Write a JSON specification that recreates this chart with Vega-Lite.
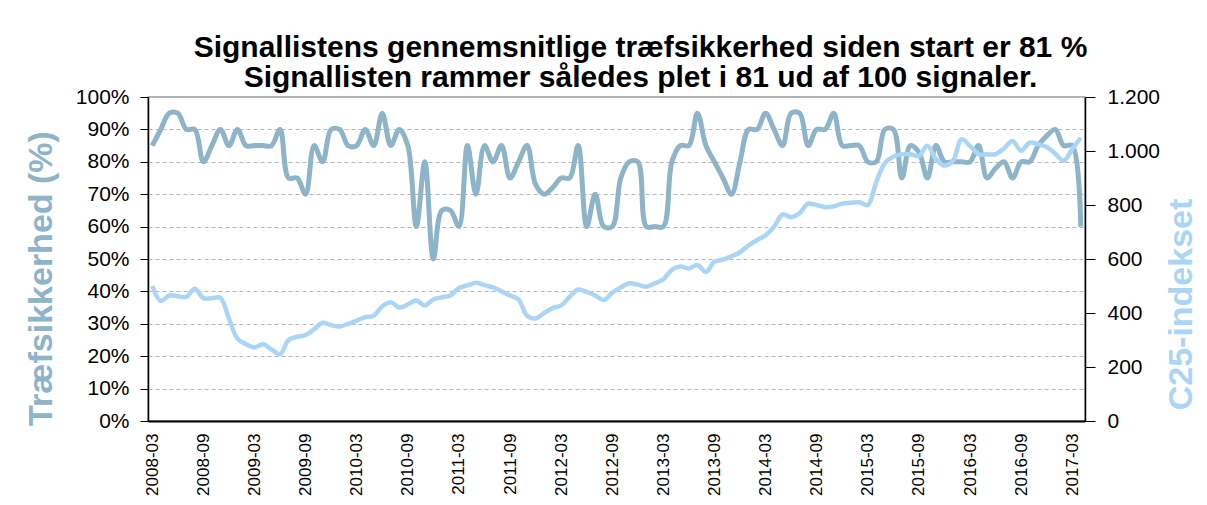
{
  "$schema": "https://vega.github.io/schema/vega-lite/v6.json",
  "width": 937,
  "height": 324,
  "autosize": {"type": "none"},
  "padding": {"left": 148, "top": 97, "right": 122, "bottom": 84},
  "background": "white",
  "config": {
    "font": "Liberation Sans",
    "view": {"stroke": "#999999", "strokeWidth": 1.5},
    "axis": {"labelFont": "Liberation Sans", "titleFont": "Liberation Sans", "labelColor": "#000000", "domainColor": "#000000", "tickColor": "#000000"}
  },
  "title": {
    "text": ["Signallistens gennemsnitlige træfsikkerhed siden start er 81 %", "Signallisten rammer således plet i 81 ud af 100 signaler."],
    "fontSize": 30,
    "fontWeight": "bold",
    "font": "Liberation Sans",
    "color": "#000000",
    "anchor": "middle",
    "dx": 24,
    "offset": -7,
    "lineHeight": 30
  },
  "data": {"values": [
    {"m": "2008-03", "acc": 85, "idx": 500},
    {"m": "2008-04", "acc": 90, "idx": 445},
    {"m": "2008-05", "acc": 95, "idx": 465},
    {"m": "2008-06", "acc": 95, "idx": 462},
    {"m": "2008-07", "acc": 90, "idx": 460},
    {"m": "2008-08", "acc": 90, "idx": 490},
    {"m": "2008-09", "acc": 80, "idx": 455},
    {"m": "2008-10", "acc": 85, "idx": 455},
    {"m": "2008-11", "acc": 90, "idx": 456},
    {"m": "2008-12", "acc": 85, "idx": 380},
    {"m": "2009-01", "acc": 90, "idx": 305},
    {"m": "2009-02", "acc": 85, "idx": 285},
    {"m": "2009-03", "acc": 85, "idx": 272},
    {"m": "2009-04", "acc": 85, "idx": 284},
    {"m": "2009-05", "acc": 85, "idx": 265},
    {"m": "2009-06", "acc": 90, "idx": 248},
    {"m": "2009-07", "acc": 75, "idx": 300},
    {"m": "2009-08", "acc": 75, "idx": 312},
    {"m": "2009-09", "acc": 70, "idx": 318},
    {"m": "2009-10", "acc": 85, "idx": 340},
    {"m": "2009-11", "acc": 80, "idx": 364},
    {"m": "2009-12", "acc": 90, "idx": 355},
    {"m": "2010-01", "acc": 90, "idx": 350},
    {"m": "2010-02", "acc": 85, "idx": 360},
    {"m": "2010-03", "acc": 85, "idx": 372},
    {"m": "2010-04", "acc": 90, "idx": 385},
    {"m": "2010-05", "acc": 85, "idx": 390},
    {"m": "2010-06", "acc": 95, "idx": 425},
    {"m": "2010-07", "acc": 85, "idx": 440},
    {"m": "2010-08", "acc": 90, "idx": 420},
    {"m": "2010-09", "acc": 85, "idx": 432},
    {"m": "2010-10", "acc": 60, "idx": 446},
    {"m": "2010-11", "acc": 80, "idx": 428},
    {"m": "2010-12", "acc": 50, "idx": 450},
    {"m": "2011-01", "acc": 65, "idx": 458},
    {"m": "2011-02", "acc": 65, "idx": 465},
    {"m": "2011-03", "acc": 60, "idx": 493},
    {"m": "2011-04", "acc": 85, "idx": 502},
    {"m": "2011-05", "acc": 70, "idx": 512},
    {"m": "2011-06", "acc": 85, "idx": 503},
    {"m": "2011-07", "acc": 80, "idx": 495},
    {"m": "2011-08", "acc": 85, "idx": 480},
    {"m": "2011-09", "acc": 75, "idx": 465},
    {"m": "2011-10", "acc": 80, "idx": 450},
    {"m": "2011-11", "acc": 85, "idx": 390},
    {"m": "2011-12", "acc": 73, "idx": 380},
    {"m": "2012-01", "acc": 70, "idx": 400},
    {"m": "2012-02", "acc": 72, "idx": 418},
    {"m": "2012-03", "acc": 75, "idx": 428},
    {"m": "2012-04", "acc": 75, "idx": 460},
    {"m": "2012-05", "acc": 85, "idx": 487},
    {"m": "2012-06", "acc": 60, "idx": 478},
    {"m": "2012-07", "acc": 70, "idx": 465},
    {"m": "2012-08", "acc": 60, "idx": 448},
    {"m": "2012-09", "acc": 60, "idx": 475},
    {"m": "2012-10", "acc": 75, "idx": 495},
    {"m": "2012-11", "acc": 80, "idx": 510},
    {"m": "2012-12", "acc": 80, "idx": 505},
    {"m": "2013-01", "acc": 60, "idx": 497},
    {"m": "2013-02", "acc": 60, "idx": 510},
    {"m": "2013-03", "acc": 60, "idx": 525},
    {"m": "2013-04", "acc": 80, "idx": 560},
    {"m": "2013-05", "acc": 85, "idx": 572},
    {"m": "2013-06", "acc": 85, "idx": 565},
    {"m": "2013-07", "acc": 95, "idx": 578},
    {"m": "2013-08", "acc": 85, "idx": 552},
    {"m": "2013-09", "acc": 80, "idx": 590},
    {"m": "2013-10", "acc": 75, "idx": 598},
    {"m": "2013-11", "acc": 70, "idx": 610},
    {"m": "2013-12", "acc": 80, "idx": 625},
    {"m": "2014-01", "acc": 90, "idx": 650},
    {"m": "2014-02", "acc": 90, "idx": 670},
    {"m": "2014-03", "acc": 95, "idx": 688},
    {"m": "2014-04", "acc": 90, "idx": 720},
    {"m": "2014-05", "acc": 85, "idx": 765},
    {"m": "2014-06", "acc": 95, "idx": 755},
    {"m": "2014-07", "acc": 95, "idx": 770},
    {"m": "2014-08", "acc": 85, "idx": 805},
    {"m": "2014-09", "acc": 90, "idx": 800},
    {"m": "2014-10", "acc": 90, "idx": 792},
    {"m": "2014-11", "acc": 95, "idx": 795},
    {"m": "2014-12", "acc": 85, "idx": 805},
    {"m": "2015-01", "acc": 85, "idx": 808},
    {"m": "2015-02", "acc": 85, "idx": 810},
    {"m": "2015-03", "acc": 80, "idx": 800},
    {"m": "2015-04", "acc": 80, "idx": 885},
    {"m": "2015-05", "acc": 90, "idx": 955},
    {"m": "2015-06", "acc": 90, "idx": 980},
    {"m": "2015-07", "acc": 75, "idx": 988},
    {"m": "2015-08", "acc": 85, "idx": 988},
    {"m": "2015-09", "acc": 83, "idx": 982},
    {"m": "2015-10", "acc": 75, "idx": 1019},
    {"m": "2015-11", "acc": 85, "idx": 970},
    {"m": "2015-12", "acc": 80, "idx": 946},
    {"m": "2016-01", "acc": 80, "idx": 964},
    {"m": "2016-02", "acc": 80, "idx": 1043},
    {"m": "2016-03", "acc": 80, "idx": 1019},
    {"m": "2016-04", "acc": 85, "idx": 988},
    {"m": "2016-05", "acc": 75, "idx": 988},
    {"m": "2016-06", "acc": 78, "idx": 988},
    {"m": "2016-07", "acc": 80, "idx": 1010},
    {"m": "2016-08", "acc": 75, "idx": 1037},
    {"m": "2016-09", "acc": 80, "idx": 1001},
    {"m": "2016-10", "acc": 80, "idx": 1031},
    {"m": "2016-11", "acc": 85, "idx": 1025},
    {"m": "2016-12", "acc": 88, "idx": 1015},
    {"m": "2017-01", "acc": 90, "idx": 990},
    {"m": "2017-02", "acc": 85, "idx": 964},
    {"m": "2017-03", "acc": 85, "idx": 1007},
    {"m": "2017-04", "acc": 60, "idx": 1049}
  ]},
  "encoding": {
    "x": {
      "field": "m",
      "type": "ordinal",
      "scale": {"type": "point", "padding": 0.5},
      "axis": {
        "title": null,
        "values": ["2008-03", "2008-09", "2009-03", "2009-09", "2010-03", "2010-09", "2011-03", "2011-09", "2012-03", "2012-09", "2013-03", "2013-09", "2014-03", "2014-09", "2015-03", "2015-09", "2016-03", "2016-09", "2017-03"],
        "labelAngle": 270,
        "labelFontSize": 17,
        "labelPadding": 12,
        "ticks": false,
        "tickSize": 0,
        "domainWidth": 2,
        "grid": false
      }
    }
  },
  "layer": [
    {
      "mark": {"type": "line", "interpolate": "catmull-rom", "color": "#8db4c8", "strokeWidth": 5},
      "encoding": {
        "y": {
          "field": "acc",
          "type": "quantitative",
          "scale": {"domain": [0, 100], "nice": false},
          "axis": {
            "orient": "left",
            "values": [0, 10, 20, 30, 40, 50, 60, 70, 80, 90, 100],
            "labelExpr": "datum.value + '%'",
            "labelFontSize": 21,
            "labelPadding": 11,
            "tickSize": 8,
            "domainWidth": 1.5,
            "grid": true,
            "gridColor": "#b5b5b5",
            "gridDash": [4, 3],
            "gridWidth": 1,
            "title": "Træfsikkerhed (%)",
            "titleColor": "#8db4c8",
            "titleFontSize": 34,
            "titleFontWeight": "bold",
            "titleAngle": 270,
            "titleBaseline": "middle",
            "titleAlign": "center",
            "titleX": -107,
            "titleY": 181
          }
        }
      }
    },
    {
      "mark": {"type": "line", "interpolate": "catmull-rom", "color": "#aad5f6", "strokeWidth": 4.5},
      "encoding": {
        "y": {
          "field": "idx",
          "type": "quantitative",
          "scale": {"domain": [0, 1200], "nice": false},
          "axis": {
            "orient": "right",
            "values": [0, 200, 400, 600, 800, 1000, 1200],
            "labelExpr": "replace(format(datum.value, ','), ',', '.')",
            "labelFontSize": 21,
            "labelPadding": 12,
            "tickSize": 10,
            "domainWidth": 1.5,
            "grid": false,
            "title": "C25-indekset",
            "titleColor": "#aad5f6",
            "titleFontSize": 34,
            "titleFontWeight": "bold",
            "titleAngle": 270,
            "titleBaseline": "middle",
            "titleAlign": "center",
            "titleX": 96,
            "titleY": 207
          }
        }
      }
    }
  ],
  "resolve": {"scale": {"y": "independent"}}
}
